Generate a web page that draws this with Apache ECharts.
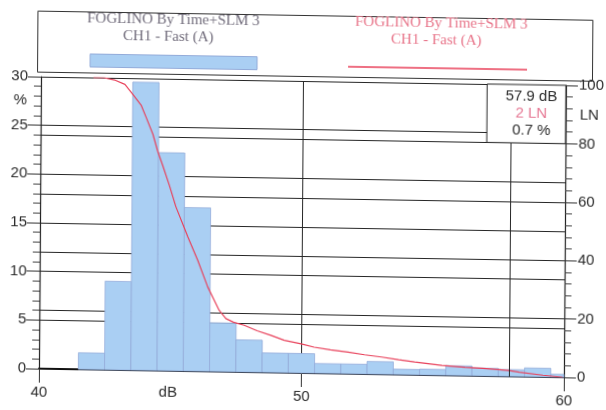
<!DOCTYPE html>
<html>
<head>
<meta charset="utf-8">
<script src="https://cdn.jsdelivr.net/npm/echarts@6.0.0/dist/echarts.min.js"></script>
<style>
  html, body { margin: 0; padding: 0; background: #ffffff; overflow: hidden; }
  /* the printed sheet sits slightly askew */
  #chart {
    width: 606px; height: 410px;
    transform-origin: 303px 225px;
    transform: matrix(1, 0.0165, -0.007, 1, 0, 0);
  }
</style>
</head>
<body>
<div id="chart"></div>
<script>
// Level distribution, 1 dB classes (class centre in dB)
const levelBins = [42, 43, 44, 45, 46, 47, 48, 49, 50, 51, 52, 53, 54, 55, 56, 57, 58, 59, 60];
// Share of time in each class, %
const percentPerBin = [1.7, 9.1, 29.6, 22.4, 16.8, 5.0, 3.3, 2.0, 2.0, 1.0, 1.0, 1.3, 0.55, 0.6, 1.0, 0.8, 0.7, 0.9, 0.3];

// Cumulative exceedance curve LN (percent of time above level)
const lnLevels = [42.0, 42.4, 42.8, 43.2, 43.5, 43.83, 44.02, 44.28, 44.47, 44.66, 44.92, 45.17, 45.64, 46.02,
                  46.41, 46.66, 46.85, 47.11, 47.4, 47.81, 48.3, 48.83, 49.34, 49.98, 50.48, 51.1, 51.77, 52.4,
                  53.05, 53.7, 54.31, 55.35, 56.23, 56.9, 57.5, 57.9, 58.3, 59.2, 59.95];
const lnValues = [100, 100, 99.3, 97.8, 94.5, 90.7, 86.6, 80.9, 75.0, 70.3, 63.5, 56.3, 45.9, 38.0,
                  28.9, 24.4, 21.0, 18.2, 17.0, 16.0, 14.2, 12.7, 11.1, 10.0, 8.9, 8.1, 7.4, 6.6,
                  5.9, 5.1, 4.4, 3.4, 2.9, 2.6, 2.3, 2.0, 1.5, 0.6, 0];

// Cursor readout
const cursorLevel = 57.9;
const cursorLn = 2;
const cursorPercent = 0.7;

// Legend captions
const seriesTitle = 'FOGLINO By Time+SLM 3';
const channelTitle = 'CH1 - Fast (A)';

const levelMin = 40, levelMax = 60;

const chart = echarts.init(document.getElementById('chart'), null, { renderer: 'canvas' });

const axisFont = { fontFamily: 'Liberation Sans, Arial, sans-serif', fontSize: 15, color: '#2b2b2b' };
const gridLine = { lineStyle: { color: '#262626', width: 1 } };

const option = {
  backgroundColor: '#ffffff',
  animation: false,
  grid: { left: 40, top: 81, width: 526, height: 292, containLabel: false },
  xAxis: {
    type: 'value', min: levelMin, max: levelMax, interval: 10,
    axisLine: { show: true, onZero: false, lineStyle: { color: '#111', width: 2 } },
    axisTick: { show: true, length: 14, lineStyle: { color: '#333', width: 1 } },
    axisLabel: Object.assign({ margin: 16 }, axisFont),
    splitLine: { show: true, lineStyle: { color: '#262626', width: 1 } }
  },
  yAxis: [
    {
      type: 'value', min: 0, max: 30, interval: 5, position: 'left',
      axisLine: { show: true, lineStyle: { color: '#222', width: 1.2 } },
      axisTick: { show: true, length: 13, lineStyle: { color: '#333' } },
      minorTick: { show: true, splitNumber: 5, length: 7, lineStyle: { color: '#444' } },
      axisLabel: Object.assign({ margin: 13 }, axisFont),
      splitLine: gridLine
    },
    {
      type: 'value', min: 0, max: 100, interval: 20, position: 'right',
      axisLine: { show: true, lineStyle: { color: '#222', width: 1.2 } },
      axisTick: { show: true, length: 12, lineStyle: { color: '#333' } },
      minorTick: { show: true, splitNumber: 5, length: 7, lineStyle: { color: '#444' } },
      axisLabel: Object.assign({ margin: 13 }, axisFont),
      splitLine: gridLine
    }
  ],
  series: [
    {
      name: 'distribution',
      type: 'custom',
      xAxisIndex: 0, yAxisIndex: 0,
      encode: { x: 0, y: 1 },
      data: levelBins.map((c, i) => [c, percentPerBin[i]]),
      z: 2,
      renderItem: function (params, api) {
        const c = api.value(0), v = api.value(1);
        const lo = Math.max(c - 0.5, levelMin), hi = Math.min(c + 0.5, levelMax);
        const p0 = api.coord([lo, v]);
        const p1 = api.coord([hi, 0]);
        return {
          type: 'rect',
          shape: { x: p0[0], y: p0[1], width: p1[0] - p0[0], height: p1[1] - p0[1] },
          style: { fill: '#aacff3', stroke: '#93abd9', lineWidth: 0.8 }
        };
      }
    },
    {
      name: 'LN',
      type: 'line',
      xAxisIndex: 0, yAxisIndex: 1,
      data: lnLevels.map((x, i) => [x, lnValues[i]]),
      showSymbol: false, smooth: false,
      lineStyle: { color: '#e8405a', width: 1.2 },
      z: 4,
      markLine: {
        silent: true, symbol: 'none', label: { show: false },
        lineStyle: { color: '#262626', width: 1, type: 'solid' },
        data: [[{ coord: [cursorLevel, 0] }, { coord: [cursorLevel, 80] }]]
      },
      markArea: {
        silent: true,
        itemStyle: { color: '#ffffff', borderColor: '#262626', borderWidth: 1 },
        label: {
          show: true, position: 'inside', offset: [5, 0],
          formatter: '{a|' + cursorLevel.toFixed(1) + ' dB}\n{b|' + cursorLn + ' LN}\n{a|' + cursorPercent.toFixed(1) + ' %}',
          rich: {
            a: { fontFamily: 'Liberation Sans, Arial, sans-serif', fontSize: 15, color: '#2b2b2b', lineHeight: 17, align: 'center' },
            b: { fontFamily: 'Liberation Sans, Arial, sans-serif', fontSize: 15, color: '#e67894', lineHeight: 17, align: 'center' }
          }
        },
        data: [[{ coord: [57, 80] }, { coord: [levelMax, 100] }]]
      }
    }
  ],
  graphic: [
    // legend frame
    { type: 'rect', left: 34, top: 13, shape: { width: 555, height: 61 },
      style: { fill: 'none', stroke: '#333', lineWidth: 1 }, z: 10 },
    { type: 'text', x: 172, y: 22, style: { text: seriesTitle, fill: '#726d7c', font: '15px "Liberation Serif", serif', align: 'center', verticalAlign: 'middle' }, z: 10 },
    { type: 'text', x: 167, y: 39, style: { text: channelTitle, fill: '#726d7c', font: '15px "Liberation Serif", serif', align: 'center', verticalAlign: 'middle' }, z: 10 },
    { type: 'rect', shape: { x: 89, y: 57.5, width: 167, height: 13 },
      style: { fill: '#aacff3', stroke: '#93abd9', lineWidth: 1 }, z: 10 },
    { type: 'text', x: 440, y: 21, style: { text: seriesTitle, fill: '#e8758a', font: '15px "Liberation Serif", serif', align: 'center', verticalAlign: 'middle' }, z: 10 },
    { type: 'text', x: 435, y: 38, style: { text: channelTitle, fill: '#e8758a', font: '15px "Liberation Serif", serif', align: 'center', verticalAlign: 'middle' }, z: 10 },
    { type: 'line', shape: { x1: 347, y1: 66, x2: 526, y2: 66 },
      style: { stroke: '#e8405a', lineWidth: 1.5 }, z: 10 },
    // axis captions
    { type: 'text', x: 26, y: 105, style: { text: '%', fill: '#2b2b2b', font: '15px "Liberation Sans", Arial, sans-serif', align: 'right', verticalAlign: 'middle' }, z: 10 },
    { type: 'text', x: 579, y: 111, style: { text: 'LN', fill: '#2b2b2b', font: '15px "Liberation Sans", Arial, sans-serif', align: 'left', verticalAlign: 'middle' }, z: 10 },
    { type: 'text', x: 169, y: 395, style: { text: 'dB', fill: '#2b2b2b', font: '15px "Liberation Sans", Arial, sans-serif', align: 'center', verticalAlign: 'middle' }, z: 10 }
  ]
};

chart.setOption(option);
</script>
</body>
</html>
